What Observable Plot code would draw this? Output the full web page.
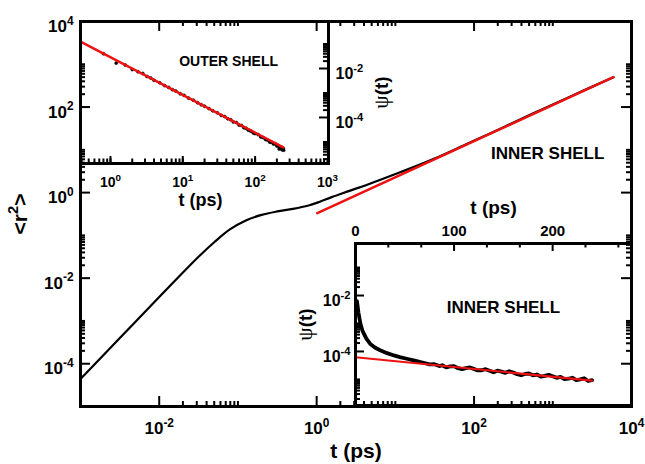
<!DOCTYPE html>
<html><head><meta charset="utf-8">
<script src="https://cdn.jsdelivr.net/npm/d3@7"></script>
<script src="https://cdn.jsdelivr.net/npm/@observablehq/plot@0.6"></script>
<style>
body{margin:0;background:#fff;}
#c{position:relative;width:645px;height:464px;}
#c svg{position:absolute;left:0;top:0;overflow:visible;}
</style></head><body><div id="c"></div>
<script>
// ---------- data ----------
const mainT  = [1e-3, 3.16e-3, 1e-2, 2e-2, 3.16e-2, 5e-2, 7.9e-2, 0.126, 0.2, 0.316, 0.5, 0.79, 1, 1.58, 2.5, 4.47, 11.7, 30.9, 83.2, 219, 575, 1550, 5890];
const mainR2 = [4.37e-5, 3.98e-4, 3.63e-3, 0.0135, 0.0316, 0.0692, 0.138, 0.224, 0.302, 0.363, 0.417, 0.501, 0.575, 0.794, 1.07, 1.55, 3.02, 6.17, 14.1, 31.6, 72.4, 166, 500];
const mainFitT  = [1.02, 5900];
const mainFitR2 = [0.33, 500];

const outerT   = [0.8, 1.2, 1.6, 2.0, 2.4, 2.8, 3.2, 3.6, 4.0, 4.8, 5.6, 6.4, 7.2, 8.0, 9.2, 10.4, 12, 14, 16, 18, 20, 23, 26, 30, 34, 38, 42, 46, 50, 55, 60, 65, 70, 75, 80, 85, 90, 95, 100, 110, 120, 130, 140, 150, 160, 170, 180, 190, 200, 210, 215, 220, 230, 235, 240, 245, 248];
const outerPsi = [0.040, 0.0166, 0.0138, 0.0090, 0.0074, 0.0063, 0.0047, 0.0041, 0.0033, 0.0026, 0.0020, 0.00168, 0.00136, 0.00120, 0.00093, 0.00080, 0.00062, 0.00051, 0.00040, 0.00033, 0.00029, 0.00023, 0.000186, 0.000156, 0.000122, 0.000109, 0.000088, 0.000081, 0.000066, 0.000062, 0.000049, 0.000047, 0.000038, 0.000036, 0.000031, 0.000029, 0.000027, 0.000023, 0.000022, 0.000020, 0.000016, 0.000015, 0.0000125, 0.0000118, 0.0000098, 0.0000097, 0.0000082, 0.0000085, 0.0000068, 0.0000071, 0.0000052, 0.0000058, 0.0000062, 0.0000048, 0.0000050, 0.0000055, 0.0000046];
const outerFitT   = [0.385, 245];
const outerFitPsi = [0.126, 6.0e-6];

const innerT   = [1.5, 3, 5, 7, 8.5, 11, 15, 20, 25, 32, 39, 45, 52, 60, 65, 70, 75, 80, 85, 88, 92, 96, 100, 104, 108, 112, 116, 120, 124, 128, 132, 136, 140, 144, 148, 152, 156, 160, 164, 168, 172, 176, 180, 184, 188, 192, 196, 200, 204, 208, 212, 216, 220, 224, 228, 232, 236, 240];
const innerPsi = [6.3e-3, 2.4e-3, 9.8e-4, 5.6e-4, 4.3e-4, 2.9e-4, 1.86e-4, 1.35e-4, 1.1e-4, 8.7e-5, 7.2e-5, 6.3e-5, 5.5e-5, 4.71e-5, 4.23e-5, 3.87e-5, 3.48e-5, 3.50e-5, 3.00e-5, 3.21e-5, 2.71e-5, 2.94e-5, 2.99e-5, 2.52e-5, 2.33e-5, 2.54e-5, 2.69e-5, 2.38e-5, 2.10e-5, 2.13e-5, 2.32e-5, 2.05e-5, 1.81e-5, 2.06e-5, 1.90e-5, 1.72e-5, 1.96e-5, 1.77e-5, 1.53e-5, 1.41e-5, 1.57e-5, 1.63e-5, 1.41e-5, 1.50e-5, 1.26e-5, 1.34e-5, 1.46e-5, 1.29e-5, 1.14e-5, 1.24e-5, 1.02e-5, 1.06e-5, 1.15e-5, 9.5e-6, 1.01e-5, 1.10e-5, 8.8e-6, 9.4e-6];
const innerFitT   = [0, 240];
const innerFitPsi = [6.2e-5, 9.1e-6];

// ---------- ticks & labels ----------
const mainXTicks  = [1e-2, 1, 1e2, 1e4];
const mainXLabels = ["10^{-2}", "10^{0}", "10^{2}", "10^{4}"];
const mainYTicks  = [1e-4, 1e-2, 1, 1e2, 1e4];
const mainYLabels = ["10^{-4}", "10^{-2}", "10^{0}", "10^{2}", "10^{4}"];
const outerXTicks  = [1, 10, 100, 1000];
const outerXLabels = ["10^{0}", "10^{1}", "10^{2}", "10^{3}"];
const outerYTicks  = [1e-2, 1e-4];
const outerYLabels = ["10^{-2}", "10^{-4}"];
const innerXTicks  = [0, 100, 200];
const innerXLabels = ["0", "100", "200"];
const innerXMinor  = [33.3, 66.7, 133.3, 166.7, 233.3, 266.7];
const innerYTicks  = [1e-2, 1e-4];
const innerYLabels = ["10^{-2}", "10^{-4}"];

const mainNote  = {t: 860, v: 8.2, label: "INNER SHELL"};
const outerNote = {t: 43, v: 0.0194, label: "OUTER SHELL"};
const innerNote = {t: 150, v: 0.0037, label: "INNER SHELL"};

// ---------- helpers ----------
const W = 645, H = 464;
const FONT = "Arial, 'Liberation Sans', Helvetica, sans-serif";
const RED = "#ee1111";
const subK = [2, 3, 4, 5, 6, 7, 8, 9, 10];
function minors(exps, lo, hi) {
  return exps.flatMap(e => subK.map(k => k * Math.pow(10, e))).filter(v => v > lo * 1.0001 && v < hi * 0.9999);
}
function tX(vals, side, len, ph, sw = 2) {
  return Plot.tickX(vals, {x: d => d, stroke: "black", strokeWidth: sw,
    insetTop: side === "bottom" ? ph - len : 0, insetBottom: side === "top" ? ph - len : 0});
}
function tY(vals, side, len, pw, sw = 2) {
  return Plot.tickY(vals, {y: d => d, stroke: "black", strokeWidth: sw,
    insetRight: side === "left" ? pw - len : 0, insetLeft: side === "right" ? pw - len : 0});
}
const txt = (o) => ({fontFamily: FONT, fontWeight: "bold", fill: "black", textAnchor: "middle", lineAnchor: "middle", ...o});
const pts = (xs, ys) => xs.map((x, i) => ({x, y: ys[i]}));

function fixText(svg) {
  d3.select(svg).selectAll("text").each(function () {
    const el = d3.select(this);
    const s = this.textContent;
    const fs = parseFloat(getComputedStyle(this).fontSize) || 16;
    const m = s.match(/^(.*?)\^\{(.*?)\}(.*)$/);
    if (m) {
      el.text(null);
      el.append("tspan").text(m[1]);
      el.append("tspan").attr("dy", -0.42 * fs).style("font-size", (0.7 * fs) + "px").text(m[2]);
      if (m[3]) el.append("tspan").attr("dy", 0.42 * fs).text(m[3]);
      return;
    }
    if (s.startsWith("ψ")) {
      el.text(null);
      el.append("tspan").style("font-family", "'Liberation Serif','DejaVu Serif',serif")
        .style("font-weight", "normal").style("font-size", (1.12 * fs) + "px").text("ψ");
      el.append("tspan").text(s.slice(1));
    }
  });
}

const container = document.getElementById("c");
function add(svg) { container.appendChild(svg); fixText(svg); }

// ---------- main plot geometry ----------
const mM = {marginLeft: 80, marginRight: 14, marginTop: 21, marginBottom: 58};
const mPW = W - 80 - 14, mPH = H - 21 - 58;
const mX = {type: "log", domain: [1e-3, 1e4], axis: null};
const mY = {type: "log", domain: [1e-5, 1e4], axis: null};
const base = {width: W, height: H, style: {background: "transparent", overflow: "visible"}};

// layer 1: main data
add(Plot.plot({...base, ...mM, x: mX, y: mY, marks: [
  Plot.line(pts(mainT, mainR2), {x: "x", y: "y", stroke: "black", strokeWidth: 2.2, curve: "catmull-rom"}),
  Plot.line(pts(mainFitT, mainFitR2), {x: "x", y: "y", stroke: RED, strokeWidth: 2.5}),
  Plot.text([mainNote], txt({x: "t", y: "v", text: "label", fontSize: 17}))
]}));

// layer 2: outer shell inset
const o = {marginLeft: 80, marginRight: W - 328, marginTop: 21, marginBottom: H - 163};
const oPW = 328 - 80, oPH = 163 - 21;
const oXd = [0.385, 1035], oYd = [1.32e-6, 0.83];
add(Plot.plot({...base, ...o,
  x: {type: "log", domain: oXd, axis: null}, y: {type: "log", domain: oYd, axis: null},
  marks: [
    Plot.frame({fill: "white", stroke: null}),
    Plot.line(pts(outerT, outerPsi).filter(d => d.x >= 3), {x: "x", y: "y", stroke: "black", strokeWidth: 1.6}),
    Plot.dot(pts(outerT, outerPsi), {x: "x", y: "y", r: 1.5, fill: "black", stroke: "black", strokeWidth: 0.6}),
    Plot.line(pts(outerFitT, outerFitPsi), {x: "x", y: "y", stroke: RED, strokeWidth: 2.5}),
    tX(outerXTicks.filter(v => v < 1000), "bottom", 7, oPH),
    tX(minors([-1, 0, 1, 2], oXd[0], oXd[1]), "bottom", 4.5, oPH),
    tY(outerYTicks, "right", 9, oPW),
    tY(minors([-6, -4, -2], oYd[0], oYd[1]), "right", 5, oPW),
    Plot.frame({stroke: "black", strokeWidth: 3}),
    Plot.text(outerXTicks, txt({x: outerXTicks, text: outerXLabels, frameAnchor: "bottom", dy: 19, fontSize: 14})),
    Plot.text(outerYTicks, txt({y: outerYTicks, text: outerYLabels, frameAnchor: "right", textAnchor: "start", dx: 7, dy: 5, fontSize: 16})),
    Plot.text(["t (ps)"], txt({text: d => d, frameAnchor: "bottom", dy: 37, dx: -4, fontSize: 18})),
    Plot.text(["ψ(t)"], txt({text: d => d, frameAnchor: "right", dx: 53, rotate: -90, fontSize: 19})),
    Plot.text([outerNote], txt({x: "t", y: "v", text: "label", fontSize: 14}))
  ]}));

// layer 3: inner shell inset
const n = {marginLeft: 355, marginRight: W - 631, marginTop: 243, marginBottom: H - 405};
const nPW = 631 - 355, nPH = 405 - 243;
const nXd = [0, 280], nYd = [1.17e-6, 0.724];
add(Plot.plot({...base, ...n,
  x: {type: "linear", domain: nXd, axis: null}, y: {type: "log", domain: nYd, axis: null},
  marks: [
    Plot.frame({fill: "white", stroke: null}),
    Plot.line(pts(innerT, innerPsi), {x: "x", y: "y", stroke: "black", strokeWidth: 3.8, curve: "linear", strokeLinejoin: "round"}),
    Plot.line(pts(innerFitT, innerFitPsi), {x: "x", y: "y", stroke: RED, strokeWidth: 2.2}),
    tX(innerXTicks, "top", 8, nPH),
    tX(innerXMinor, "top", 4.5, nPH),
    tY(innerYTicks, "left", 9, nPW),
    tY(minors([-6, -4, -2], nYd[0], nYd[1]), "left", 5, nPW),
    Plot.frame({stroke: "black", strokeWidth: 3}),
    Plot.text(innerXTicks, txt({x: innerXTicks, text: innerXLabels, frameAnchor: "top", dy: -12, fontSize: 15})),
    Plot.text(innerYTicks, txt({y: innerYTicks, text: innerYLabels, frameAnchor: "left", textAnchor: "end", dx: -5, dy: 5, fontSize: 16})),
    Plot.text(["t (ps)"], txt({text: d => d, frameAnchor: "top", dy: -36, fontSize: 19})),
    Plot.text(["ψ(t)"], txt({text: d => d, frameAnchor: "left", dx: -50, rotate: -90, fontSize: 19})),
    Plot.text([innerNote], txt({x: "t", y: "v", text: "label", fontSize: 17}))
  ]}));

// layer 4: main frame, ticks, labels (on top)
const mXmin = minors([-4, -2, 0, 2], 1e-3, 1e4);
const mYmin = minors([-6, -4, -2, 0, 2], 1e-5, 1e4);
const mXmaj = mainXTicks.filter(v => v < 1e4);
const mYmaj = mainYTicks.filter(v => v < 1e4);
add(Plot.plot({...base, ...mM, x: mX, y: mY, marks: [
  tX(mXmaj, "bottom", 10, mPH), tX(mXmaj, "top", 10, mPH),
  tX(mXmin, "bottom", 5, mPH), tX(mXmin, "top", 5, mPH),
  tY(mYmaj, "left", 10, mPW), tY(mYmaj, "right", 10, mPW),
  tY(mYmin, "left", 5, mPW), tY(mYmin, "right", 5, mPW),
  Plot.frame({stroke: "black", strokeWidth: 3}),
  Plot.text(mainXTicks, txt({x: mainXTicks, text: mainXLabels, frameAnchor: "bottom", dy: 22, fontSize: 17})),
  Plot.text(mainYTicks, txt({y: mainYTicks, text: mainYLabels, frameAnchor: "left", textAnchor: "end", dx: -7, dy: 5, fontSize: 17})),
  Plot.text(["t (ps)"], txt({text: d => d, frameAnchor: "bottom", dy: 45, fontSize: 21})),
  Plot.text(["<r^{2}>"], txt({text: d => d, frameAnchor: "left", dx: -60, rotate: -90, fontSize: 21}))
]}));
</script></body></html>
